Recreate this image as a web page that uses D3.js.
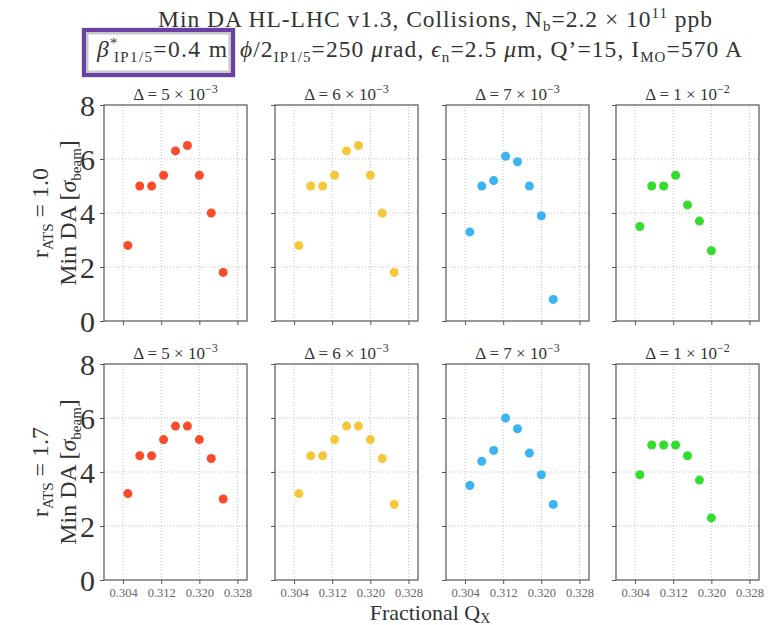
<!DOCTYPE html>
<html><head><meta charset="utf-8">
<script src="https://cdn.jsdelivr.net/npm/d3@7"></script>
<style>body{margin:0;background:#fff}svg{display:block}</style>
</head><body>
<script>
// ---- data ----
const qx = [0.305, 0.3075, 0.31, 0.3125, 0.315, 0.3175, 0.32, 0.3225, 0.325];
const deltaLabels = [["5","−3"],["6","−3"],["7","−3"],["1","−2"]];
const rowLabels = ["1.0","1.7"];
const colors = ["#fb4b2a","#f5c83c","#3bb4f4","#33dd2e"];
// row r_ATS = 1.0
const d5_r10  = [2.8, 5.0, 5.0, 5.4, 6.3, 6.5, 5.4, 4.0, 1.8];
const d6_r10  = [2.8, 5.0, 5.0, 5.4, 6.3, 6.5, 5.4, 4.0, 1.8];
const d7_r10  = [3.3, 5.0, 5.2, 6.1, 5.9, 5.0, 3.9, 0.8];
const d10_r10 = [3.5, 5.0, 5.0, 5.4, 4.3, 3.7, 2.6];
// row r_ATS = 1.7
const d5_r17  = [3.2, 4.6, 4.6, 5.2, 5.7, 5.7, 5.2, 4.5, 3.0];
const d6_r17  = [3.2, 4.6, 4.6, 5.2, 5.7, 5.7, 5.2, 4.5, 2.8];
const d7_r17  = [3.5, 4.4, 4.8, 6.0, 5.6, 4.7, 3.9, 2.8];
const d10_r17 = [3.9, 5.0, 5.0, 5.0, 4.6, 3.7, 2.3];
const xTicks = [0.304, 0.312, 0.320, 0.328];
const yTicks = [0, 2, 4, 6, 8];

const grid = [[d5_r10, d6_r10, d7_r10, d10_r10],[d5_r17, d6_r17, d7_r17, d10_r17]];

// ---- layout ----
const W = 773, H = 625;
const panelX = [104, 275, 446, 616], panelW = 143;
const panelY = [105, 364], panelH = 216;
const serif = "'Liberation Serif','DejaVu Serif',serif";
const svg = d3.select("body").append("svg").attr("width", W).attr("height", H);

// highlight box
svg.append("rect").attr("x", 85).attr("y", 31).attr("width", 147).attr("height", 43)
  .attr("fill", "none").attr("stroke", "#c8c8c8").attr("stroke-width", 7);
svg.append("rect").attr("x", 84).attr("y", 30).attr("width", 149).attr("height", 45)
  .attr("fill", "none").attr("stroke", "#6a40a4").attr("stroke-width", 4);

// title
const title = svg.append("g").attr("font-family", serif).attr("fill", "#333");
const t1 = title.append("text").attr("x", 158).attr("y", 27).attr("font-size", 23.5)
  .attr("textLength", 554).attr("lengthAdjust", "spacing");
t1.append("tspan").text("Min DA HL-LHC v1.3, Collisions, N");
t1.append("tspan").attr("font-size", 15).attr("dy", 4).text("b");
t1.append("tspan").attr("dy", -4).text("=2.2 × 10");
t1.append("tspan").attr("font-size", 15).attr("dy", -9).text("11");
t1.append("tspan").attr("dy", 9).text(" ppb");

const t2a = title.append("text").attr("x", 97).attr("y", 57).attr("font-size", 23.5)
  .attr("textLength", 130).attr("lengthAdjust", "spacing");
t2a.append("tspan").attr("font-style","italic").text("β");
t2a.append("tspan").attr("font-size", 15).attr("dy", -9).text("*");
t2a.append("tspan").attr("font-size", 15).attr("dy", 14).attr("dx", -5).text("IP1/5");
t2a.append("tspan").attr("dy", -5).text("=0.4 m");

const t2 = title.append("text").attr("x", 240).attr("y", 57).attr("font-size", 23.5)
  .attr("textLength", 502).attr("lengthAdjust", "spacing");
t2.append("tspan").attr("font-style","italic").text("ϕ");
t2.append("tspan").text("/2");
t2.append("tspan").attr("font-size", 15).attr("dy", 5).text("IP1/5");
t2.append("tspan").attr("dy", -5).text("=250 ");
t2.append("tspan").attr("font-style","italic").text("μ");
t2.append("tspan").text("rad, ");
t2.append("tspan").attr("font-style","italic").text("ϵ");
t2.append("tspan").attr("font-size", 15).attr("dy", 5).text("n");
t2.append("tspan").attr("dy", -5).text("=2.5 ");
t2.append("tspan").attr("font-style","italic").text("μ");
t2.append("tspan").text("m, Q’=15, I");
t2.append("tspan").attr("font-size", 15).attr("dy", 5).text("MO");
t2.append("tspan").attr("dy", -5).text("=570 A");

// panels
grid.forEach((row, r) => {
  row.forEach((vals, c) => {
    const x = d3.scaleLinear().domain([0.30, 0.33]).range([panelX[c], panelX[c] + panelW]);
    const y = d3.scaleLinear().domain([0, 8]).range([panelY[r] + panelH, panelY[r]]);
    const g = svg.append("g");
    // grid
    g.selectAll(".gx").data(xTicks).join("line")
      .attr("x1", d => x(d)).attr("x2", d => x(d)).attr("y1", y(0)).attr("y2", y(8))
      .attr("stroke", "#b0b0b0").attr("stroke-width", 0.8).attr("stroke-dasharray", "1,2");
    g.selectAll(".gy").data(yTicks.slice(1, -1)).join("line")
      .attr("x1", x(0.30)).attr("x2", x(0.33)).attr("y1", d => y(d)).attr("y2", d => y(d))
      .attr("stroke", "#b0b0b0").attr("stroke-width", 0.8).attr("stroke-dasharray", "1,2");
    // axes
    const xa = g.append("g").attr("transform", `translate(0,${y(0)})`)
      .call(d3.axisBottom(x).tickValues(xTicks).tickSize(4).tickPadding(4)
        .tickFormat(r === 1 ? d3.format(".3f") : () => ""));
    xa.select(".domain").remove();
    xa.selectAll("line").attr("stroke", "#555");
    xa.selectAll("text").attr("font-family", serif).attr("font-size", 12.5).attr("fill", "#666");
    const ya = g.append("g").attr("transform", `translate(${x(0.30)},0)`)
      .call(d3.axisLeft(y).tickValues(yTicks).tickSize(4).tickPadding(5)
        .tickFormat(c === 0 ? d3.format("d") : () => ""));
    ya.select(".domain").remove();
    ya.selectAll("line").attr("stroke", "#555");
    ya.selectAll("text").attr("font-family", serif).attr("font-size", 30).attr("fill", "#333")
      .attr("dy", "0.34em");
    // frame
    g.append("rect").attr("x", x(0.30)).attr("y", y(8)).attr("width", x(0.33) - x(0.30))
      .attr("height", y(0) - y(8)).attr("fill", "none").attr("stroke", "#555").attr("stroke-width", 1.2);
    // points
    g.selectAll("circle").data(vals).join("circle")
      .attr("cx", (d, i) => x(qx[i])).attr("cy", d => y(d)).attr("r", 4.5)
      .attr("fill", colors[c]);
    // subtitle
    const st = g.append("text").attr("x", x(0.315)).attr("y", y(8) - 5).attr("text-anchor", "middle")
      .attr("font-family", serif).attr("font-size", 17).attr("fill", "#333");
    st.append("tspan").text(`Δ = ${deltaLabels[c][0]} × 10`);
    st.append("tspan").attr("font-size", 12).attr("dy", -7).text(deltaLabels[c][1]);
  });
  // row label
  const cy = panelY[r] + panelH / 2;
  const lab = svg.append("g").attr("transform", `translate(0,${cy}) rotate(-90)`)
    .attr("font-family", serif).attr("fill", "#333").attr("font-size", 24).attr("text-anchor", "middle");
  const l1 = lab.append("text").attr("x", 0).attr("y", 48);
  l1.append("tspan").text("r");
  l1.append("tspan").attr("font-size", 15).attr("dy", 5).text("ATS");
  l1.append("tspan").attr("dy", -5).text(" = " + rowLabels[r]);
  const l2 = lab.append("text").attr("x", 0).attr("y", 76);
  l2.append("tspan").text("Min DA [");
  l2.append("tspan").attr("font-style", "italic").text("σ");
  l2.append("tspan").attr("font-size", 15).attr("dy", 5).text("beam");
  l2.append("tspan").attr("dy", -5).text("]");
});

// x label
const xl = svg.append("text").attr("x", 430).attr("y", 620).attr("text-anchor", "middle")
  .attr("font-family", serif).attr("font-size", 22).attr("fill", "#333");
xl.append("tspan").text("Fractional Q");
xl.append("tspan").attr("font-size", 14).attr("dy", 3).text("X");
</script>
</body></html>
